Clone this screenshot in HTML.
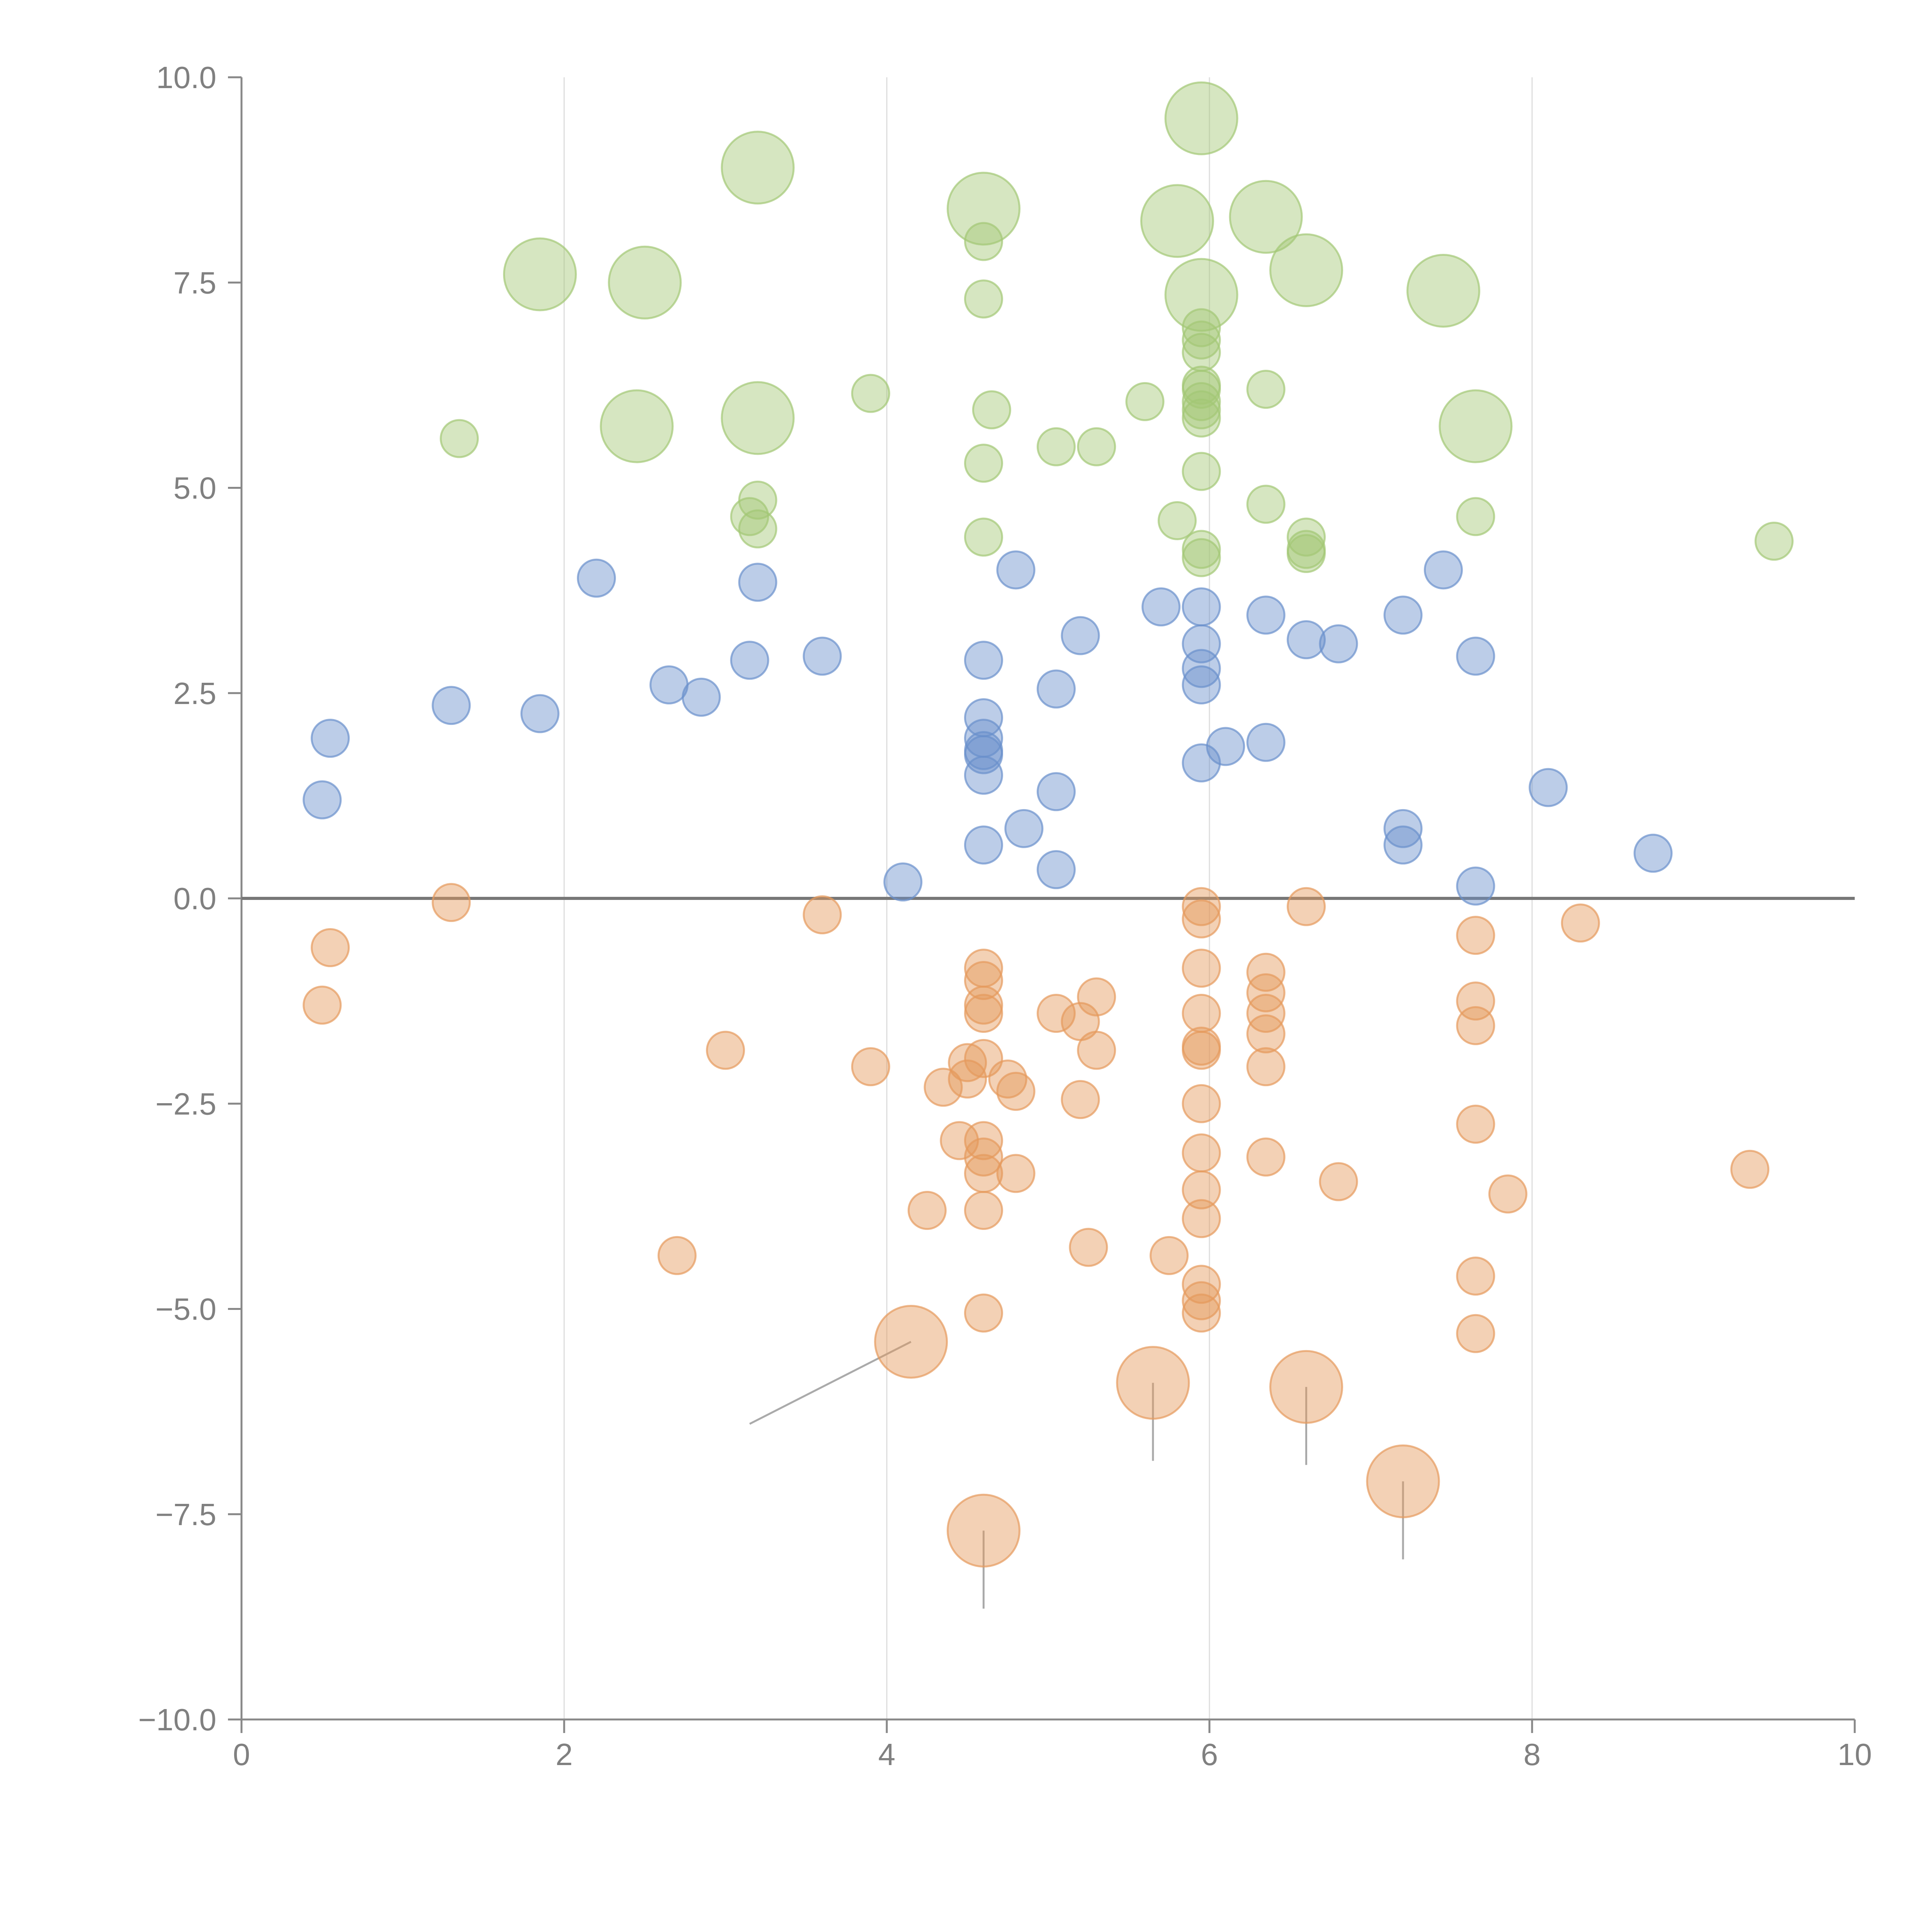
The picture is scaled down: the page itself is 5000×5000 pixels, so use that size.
<!DOCTYPE html>
<html><head><meta charset="utf-8"><style>
html,body{margin:0;padding:0;background:#fff;}
svg{display:block;font-family:"Liberation Sans",sans-serif;}
</style></head><body>
<svg id="chart" width="5000" height="5000" viewBox="0 0 5000 5000" xmlns="http://www.w3.org/2000/svg">
<g id="grid"></g>
<g id="axes"></g>
<g id="marks"></g>
</svg>
<script>
const xTicks=[0,2,4,6,8,10];
const yTicks=[10,7.5,5,2.5,0,-2.5,-5,-7.5,-10];
const yTickLabels=["10.0","7.5","5.0","2.5","0.0","\u22122.5","\u22125.0","\u22127.5","\u221210.0"];
const greenSmallX=[1.35,3.2,3.15,3.2,3.9,4.6,4.6,4.65,4.6,4.6,5.05,5.3,5.6,5.95,5.95,5.95,5.95,5.95,5.95,5.95,5.95,5.95,5.8,5.95,5.95,6.35,6.35,6.6,6.6,6.6,7.65,9.5];
const greenSmallY=[5.6,4.85,4.65,4.5,6.15,8.0,7.3,5.95,5.3,4.4,5.5,5.5,6.05,6.95,6.8,6.65,6.25,6.2,6.05,5.95,5.85,5.2,4.6,4.25,4.15,6.2,4.8,4.4,4.2,4.25,4.65,4.35];
const greenLargeX=[1.85,2.5,3.2,4.6,5.95,5.8,6.35,6.6,5.95,7.45,2.45,3.2,7.65];
const greenLargeY=[7.6,7.5,8.9,8.4,9.5,8.25,8.3,7.65,7.35,7.4,5.75,5.85,5.75];
const blueX=[0.55,0.5,1.3,1.85,2.2,2.65,2.85,3.15,3.2,3.6,4.1,4.6,4.6,4.6,4.6,4.6,4.6,4.6,4.8,4.85,5.05,5.05,5.05,5.2,5.7,5.95,5.95,5.95,5.95,5.95,6.1,6.35,6.35,6.6,6.8,7.2,7.2,7.2,7.45,7.65,7.65,8.1,8.75];
const blueY=[1.95,1.2,2.35,2.25,3.9,2.6,2.45,2.9,3.85,2.95,0.2,2.9,2.2,1.95,1.8,1.75,1.5,0.65,4.0,0.85,2.55,1.3,0.35,3.2,3.55,3.55,3.1,2.8,2.6,1.65,1.85,3.45,1.9,3.15,3.1,3.45,0.85,0.65,4.0,2.95,0.15,1.35,0.55];
const orangeSmallX=[0.5,0.55,1.3,2.7,3.0,3.6,3.9,4.25,4.35,4.45,4.5,4.5,4.6,4.6,4.6,4.6,4.6,4.6,4.6,4.6,4.6,4.6,4.75,4.8,4.8,5.05,5.2,5.2,5.25,5.3,5.3,5.75,5.95,5.95,5.95,5.95,5.95,5.95,5.95,5.95,5.95,5.95,5.95,5.95,5.95,6.35,6.35,6.35,6.35,6.35,6.35,6.6,6.8,7.65,7.65,7.65,7.65,7.65,7.65,7.85,8.3,9.35];
const orangeSmallY=[-1.3,-0.6,-0.05,-4.35,-1.85,-0.2,-2.05,-3.8,-2.3,-2.95,-2.0,-2.2,-0.85,-1.0,-1.3,-1.4,-1.95,-2.95,-3.15,-3.35,-3.8,-5.05,-2.2,-2.35,-3.35,-1.4,-1.5,-2.45,-4.25,-1.2,-1.85,-4.35,-0.1,-0.25,-0.85,-1.4,-1.8,-1.85,-2.5,-3.1,-3.55,-3.9,-4.7,-4.9,-5.05,-0.9,-1.15,-1.4,-1.65,-2.05,-3.15,-0.1,-3.45,-0.45,-1.25,-1.55,-2.75,-4.6,-5.3,-3.6,-0.3,-3.3];
const orangeLargeX=[4.15,5.65,6.6,7.2,4.6];
const orangeLargeY=[-5.4,-5.9,-5.95,-7.1,-7.7];
const leaderEndX=[3.15,5.65,6.6,7.2,4.6];
const leaderEndY=[-6.4,-6.85,-6.9,-8.05,-8.65];

const X0=625,X1=4800,Y0=4450,Y1=200;
const sx=v=>X0+(v-0)/(10-0)*(X1-X0);
const sy=v=>Y0-(v+10)/20*(Y0-Y1);
const NS="http://www.w3.org/2000/svg";
function mk(parent,tag,attrs){const e=document.createElementNS(NS,tag);for(const k in attrs)e.setAttribute(k,attrs[k]);parent.appendChild(e);return e;}
const grid=document.getElementById('grid'),axes=document.getElementById('axes'),marks=document.getElementById('marks');
xTicks.forEach(t=>{
  if(t>0&&t<10){const l=mk(grid,'line',{x1:sx(t),x2:sx(t),y1:Y1,y2:Y0,stroke:'#dddddd','stroke-width':3});
  
  }
  const tk=mk(axes,'line',{x1:sx(t),x2:sx(t),y1:Y0,y2:Y0+35,stroke:'#888','stroke-width':5});
  
  
  const tx=mk(axes,'text',{x:sx(t),y:Y0+118,'text-anchor':'middle','font-size':80,fill:'#808080'});
  tx.textContent=t;
  
  
});
yTicks.forEach((t,i)=>{
  const tk=mk(axes,'line',{x1:X0-35,x2:X0,y1:sy(t),y2:sy(t),stroke:'#888','stroke-width':5});
  
  
  const tx=mk(axes,'text',{x:X0-65,y:sy(t)+28,'text-anchor':'end','font-size':80,fill:'#808080'});
  tx.textContent=yTickLabels[i];
  
  
});
const ya=mk(axes,'line',{x1:X0,x2:X0,y1:Y1,y2:Y0,stroke:'#888','stroke-width':5});


const xa=mk(axes,'line',{x1:X0,x2:X1,y1:Y0,y2:Y0,stroke:'#888','stroke-width':5});


const zl=mk(axes,'line',{x1:X0,x2:X1,y1:sy(0),y2:sy(0),stroke:'#777','stroke-width':8});



orangeLargeX.forEach((v,i)=>{
  const l=mk(marks,'line',{x1:sx(v),y1:sy(orangeLargeY[i]),x2:sx(leaderEndX[i]),y2:sy(leaderEndY[i]),stroke:'#aaa','stroke-width':5});
  
  
});
function series(xs,ys,r,color,name){
  xs.forEach((v,i)=>{
    const c=mk(marks,'circle',{cx:sx(v),cy:sy(ys[i]),r:r,fill:color,'fill-opacity':0.45,stroke:color,'stroke-opacity':0.7,'stroke-width':5});
    
    
  });
}
series(blueX,blueY,48,'#6a90cc','blue-point');
series(orangeSmallX,orangeSmallY,48,'#e59a5c','orange-point');
series(orangeLargeX,orangeLargeY,93,'#e59a5c','orange-large-point');
series(greenSmallX,greenSmallY,48,'#a3c775','green-point');
series(greenLargeX,greenLargeY,93,'#a3c775','green-large-point');
</script>
</body></html>
